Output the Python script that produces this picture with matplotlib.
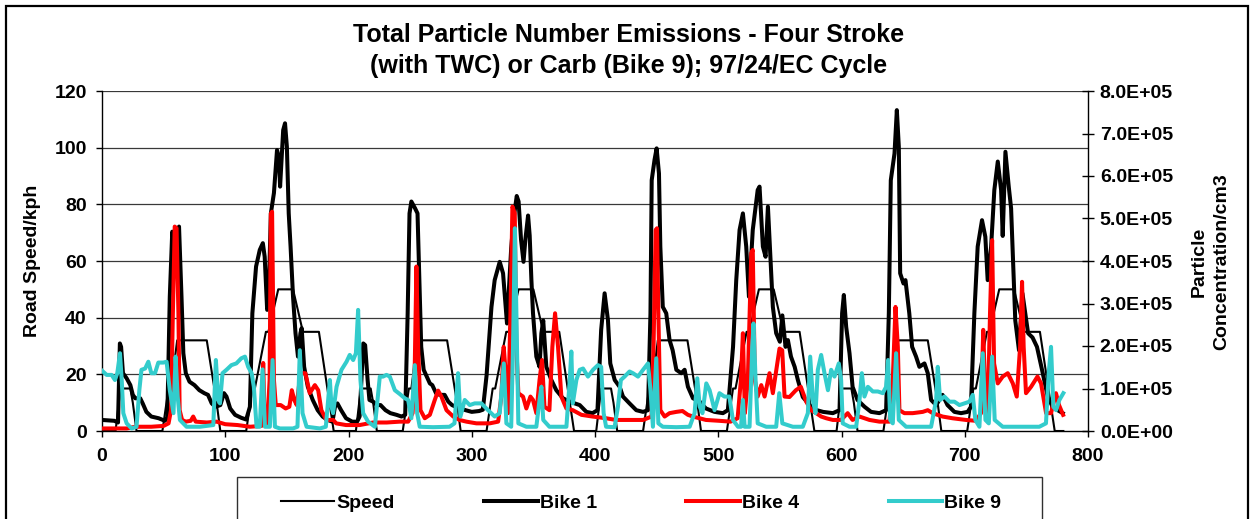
import numpy as np
import matplotlib.pyplot as plt
from matplotlib.ticker import FuncFormatter, MultipleLocator
from matplotlib.lines import Line2D

plt.rcParams['font.family'] = ['Liberation Sans', 'DejaVu Sans']
plt.rcParams['font.weight'] = 'bold'

# Road speed (kph), ECE cycle repeated four times
speed_t = [0, 11, 15, 23, 25, 28, 49, 54, 56, 61, 85, 93, 96, 117, 122, 124, 133, 135, 143, 155, 163, 176, 188,
           195, 206, 210, 218, 220, 223, 244, 249, 251, 256, 280, 288, 291, 312, 317, 319, 328, 330, 338, 350, 358, 371, 383,
           390, 401, 405, 413, 415, 418, 439, 444, 446, 451, 475, 483, 486, 507, 512, 514, 523, 525, 533, 545, 553, 566, 578,
           585, 596, 600, 608, 610, 613, 634, 639, 641, 646, 670, 678, 681, 702, 707, 709, 718, 720, 728, 740, 748, 761, 773,
           780]
speed_v = [0, 0, 15, 15, 10, 0, 0, 15, 15, 32, 32, 10, 0, 0, 15, 15, 35, 35, 50, 50, 35, 35, 0,
           0, 0, 15, 15, 10, 0, 0, 15, 15, 32, 32, 10, 0, 0, 15, 15, 35, 35, 50, 50, 35, 35, 0,
           0, 0, 15, 15, 10, 0, 0, 15, 15, 32, 32, 10, 0, 0, 15, 15, 35, 35, 50, 50, 35, 35, 0,
           0, 0, 15, 15, 10, 0, 0, 15, 15, 32, 32, 10, 0, 0, 15, 15, 35, 35, 50, 50, 35, 35, 0,
           0]

# Particle concentration, units of 1E+05 /cm3
bike1_t = [0, 10, 13, 14.5, 15.5, 17, 20, 23, 25, 27, 31, 33, 36, 40, 46, 51, 53, 55, 57, 59.5, 62.5, 64.5, 66, 68,
           71, 75, 79, 83, 86, 89, 92, 96, 99, 101, 104, 108, 113, 117, 120, 122, 125, 128, 130.5, 132, 134, 135,
           137, 139.5, 142, 143.5, 144.5, 145.5, 147, 148.5, 150, 151.5, 153, 155, 157, 159, 161, 162, 164, 167,
           171, 175, 179, 183, 187, 189, 191, 194, 198, 203, 207, 209, 212, 213.5, 215.5, 217, 220, 223, 226, 230,
           234, 239, 243, 246, 248, 249.5, 251, 254, 256, 257.5, 259, 261, 263.5, 266, 268, 271, 274, 278, 281,
           284, 287, 291, 295, 300, 306, 309, 312, 316, 318.6, 322.7, 325.4, 327.6, 328.6, 330.5, 332, 334, 336.5,
           338, 340, 342, 343.5, 345.7, 347, 348.4, 349.7, 352.4, 355, 356.5, 358, 360.5, 364.6, 368.6, 374,
           379.5, 387.6, 393, 398, 402, 405, 407.8, 410.5, 412.4, 416, 420, 422.7, 428, 433.5, 439, 443, 445,
           446, 448.3, 450, 451.9, 453, 455, 457.8, 460.5, 463, 466, 470, 472.7, 475.4, 479.5, 485, 490, 497,
           503.8, 507.8, 512, 514.6, 517.3, 520, 522.7, 524.9, 528, 532, 533.5, 536.2, 538.4, 540.3, 542.2,
           544.3, 547, 550, 552, 554.6, 556.5, 559, 562, 564.6, 568.6, 573, 577, 580, 585, 593, 598.4, 600.5,
           601.9, 603.8, 606.5, 609, 613, 618.7, 624, 630.8, 636.2, 638.4, 640, 643, 644.9, 646.5, 647.6, 650.3,
           651.9, 655, 657.3, 660.5, 663.2, 667.3, 670, 672.7, 676.8, 682, 686, 691.6, 697, 702.4, 705, 707.8,
           710.5, 714, 716.7, 718.6, 721.4, 724, 726.8, 729.5, 730.8, 733, 735.7, 737.6, 741, 744, 746.8, 751.4,
           755, 758.6, 762.7, 767.3, 771.4, 775.4, 779.5]
bike1_c = [0.26, 0.24, 0.20, 2.06, 1.98, 1.36, 1.24, 1.08, 0.85, 0.77, 0.77, 0.65, 0.45, 0.34, 0.30, 0.24, 0.32, 3.16,
           4.69, 4.20, 4.81, 3.16, 1.83, 1.36, 1.16, 1.08, 0.96, 0.89, 0.85, 0.65, 0.57, 0.61, 0.89, 0.81, 0.53, 0.38,
           0.31, 0.27, 0.57, 2.77, 3.87, 4.26, 4.42, 4.10, 2.85, 2.90, 5.12, 5.60, 6.61, 6.45, 5.75, 6.30, 7.08, 7.24,
           6.69, 5.12, 4.34, 3.16, 2.30, 1.75, 2.30, 2.42, 1.51, 1.04, 0.73, 0.49, 0.34, 0.26, 0.22, 0.57, 0.65, 0.49,
           0.30, 0.22, 0.22, 0.34, 2.06, 2.02, 1.20, 0.73, 0.69, 0.61, 0.61, 0.49, 0.42, 0.38, 0.34, 0.38, 2.77, 5.12,
           5.40, 5.24, 5.12, 3.55, 1.98, 1.44, 1.28, 1.12, 1.08, 0.89, 0.85, 0.85, 0.69, 0.61, 0.57, 0.53, 0.49, 0.45,
           0.47, 0.50, 1.30, 2.92, 3.55, 3.98, 3.71, 2.92, 2.53, 3.50, 4.30, 5.00, 5.53, 5.40, 4.50, 3.98, 4.50, 5.07,
           4.60, 3.55, 2.77, 1.75, 1.51, 2.30, 2.60, 1.51, 1.20, 0.96, 0.77, 0.69, 0.61, 0.45, 0.42, 0.49, 2.38, 3.24,
           2.61, 1.59, 1.20, 1.04, 0.81, 0.65, 0.49, 0.45, 0.49, 2.77, 5.90, 6.38, 6.65, 6.06, 4.34, 2.92, 2.77, 2.14,
           1.90, 1.44, 1.36, 1.44, 1.04, 0.77, 0.69, 0.53, 0.45, 0.42, 0.49, 1.98, 3.55, 4.73, 5.12, 4.34, 3.16, 4.73,
           5.67, 5.75, 4.34, 4.10, 5.28, 4.18, 2.92, 2.30, 2.10, 2.72, 1.98, 2.14, 1.75, 1.51, 1.20, 0.80, 0.65, 0.52,
           0.49, 0.45, 0.42, 0.49, 2.77, 3.20, 2.45, 1.83, 1.04, 0.73, 0.57, 0.45, 0.42, 0.49, 2.77, 5.90, 6.53, 7.55,
           6.69, 3.71, 3.47, 3.55, 2.77, 1.98, 1.75, 1.51, 1.59, 1.36, 0.73, 0.61, 0.85, 0.61, 0.45, 0.42, 0.45, 0.57,
           2.77, 4.34, 4.96, 4.57, 3.55, 4.34, 5.67, 6.34, 5.67, 4.59, 6.57, 5.75, 5.24, 2.60, 1.90, 3.24, 2.30, 2.20,
           1.98, 1.44, 0.81, 0.57, 0.49, 0.42]

bike4_t = [0, 20, 27, 40, 50, 54, 56, 57.5, 59, 60.5, 62, 63, 65, 68, 72, 74, 76, 85, 93, 100, 110, 120, 129.5,
           130.8, 132, 134, 136, 137, 138, 139.5, 141, 145, 149, 152, 154, 156, 158, 161, 165, 168.6, 172.7, 175.4,
           178, 182, 187.6, 190, 198, 209, 220, 231, 241.6, 248.4, 252, 253.8, 255.1, 256.5, 258.4, 261.9, 266,
           270, 272.7, 275.4, 279.5, 285, 290, 295.7, 303.8, 314.6, 321.4, 324, 325.9, 327.6, 329.5, 331.4, 333,
           334.9, 336.2, 337.8, 341.6, 344.3, 347.6, 349.7, 352.4, 355, 357, 359, 363, 365.4, 367.6, 370, 372.7,
           376.8, 382, 389, 398, 409, 417, 428, 439, 445.9, 447.5, 449.2, 450.3, 451.4, 453, 456.5, 460.5, 466,
           471, 475.4, 479.5, 490, 500.8, 510, 515.7, 518.4, 520, 521.6, 524, 526.8, 528, 529.7, 532, 534.9, 537.6,
           541.6, 544.3, 549.7, 551.9, 553.8, 557.8, 563, 567, 571.4, 575.4, 579.5, 583.5, 587.6, 593, 599.7, 605,
           609, 614.6, 622.7, 630.8, 638.9, 641.6, 643.8, 645.7, 647, 651, 657.8, 665.9, 670, 674, 682, 690, 701,
           709, 713.2, 715, 716.7, 718.6, 720.5, 722.2, 723.8, 726.8, 730.8, 734.9, 739, 742.2, 744.9, 746.5,
           747.8, 749.7, 753.8, 759, 761.9, 766, 770, 774, 776.5, 779.8]
bike4_c = [0.06, 0.06, 0.10, 0.10, 0.12, 0.18, 0.49, 2.77, 4.81, 4.77, 2.77, 0.49, 0.26, 0.22, 0.24, 0.34, 0.22, 0.20,
           0.22, 0.16, 0.14, 0.10, 0.12, 1.60, 0.14, 0.14, 1.20, 5.12, 5.16, 1.20, 0.61, 0.61, 0.53, 0.57, 0.96, 0.73,
           0.61, 1.36, 1.36, 0.89, 1.08, 0.96, 0.49, 0.26, 0.26, 0.18, 0.14, 0.14, 0.20, 0.20, 0.22, 0.22, 0.42, 1.60,
           3.87, 1.98, 0.49, 0.30, 0.38, 0.73, 0.95, 0.81, 0.49, 0.34, 0.26, 0.22, 0.18, 0.18, 0.22, 0.81, 1.98, 1.36,
           0.42, 2.77, 5.28, 5.12, 1.98, 0.89, 0.81, 0.53, 0.81, 0.73, 0.42, 1.20, 1.67, 0.57, 0.49, 1.98, 2.77, 1.98,
           0.81, 0.53, 0.49, 0.38, 0.34, 0.30, 0.26, 0.26, 0.26, 0.34, 1.98, 4.73, 4.77, 2.77, 0.49, 0.34, 0.42, 0.45,
           0.47, 0.38, 0.34, 0.26, 0.24, 0.22, 0.30, 1.20, 2.30, 0.42, 1.20, 4.18, 4.26, 1.20, 0.81, 1.08, 0.81, 1.36,
           0.89, 1.94, 1.90, 0.81, 0.80, 0.96, 1.04, 0.69, 0.49, 0.42, 0.34, 0.30, 0.26, 0.26, 0.42, 0.26, 0.34, 0.26,
           0.22, 0.22, 1.20, 2.92, 1.98, 0.49, 0.42, 0.42, 0.45, 0.49, 0.42, 0.34, 0.30, 0.26, 0.24, 0.42, 2.38, 0.81,
           0.34, 2.77, 4.49, 1.59, 1.12, 1.28, 1.36, 1.12, 0.81, 1.98, 3.51, 1.98, 0.89, 1.04, 1.28, 1.12, 0.42, 0.42,
           0.89, 0.61, 0.38]

bike9_t = [0, 3.8, 7.8, 10.5, 12.4, 14.6, 16, 17.3, 20, 24, 28, 30.3, 32, 35, 37.6, 40, 43, 45.7, 49.7, 52.4, 55, 58,
           59.7, 61.4, 63.2, 68.6, 79.5, 90.3, 92.4, 94.3, 95.7, 97.8, 101, 105, 109, 113, 116, 118.6, 121.4, 123.2,
           125.4, 128, 130.3, 132.2, 136.2, 138.4, 140.3, 144.3, 155, 158.6, 160.5, 162.7, 166, 176.8, 181.6, 184.9,
           186.2, 187.5, 190.3, 194.3, 198.4, 201, 203.8, 206, 207.8, 209.7, 211.9, 215.9, 221.4, 225.4, 228, 230.8,
           233.5, 237.6, 241.6, 245.7, 248.4, 251, 253.8, 255.7, 257.8, 268.6, 282, 286, 288.9, 290.8, 294.3, 298.4,
           302.4, 307.8, 313.2, 318.6, 322.7, 326, 328.1, 332, 333.5, 335, 336.2, 337.8, 344.3, 352.4, 355, 356.5,
           358, 363, 376.8, 379.5, 380.8, 382, 384.9, 387.6, 390.3, 394.3, 398.4, 402.4, 405, 407, 409, 415.9, 418.6,
           421, 424, 428, 430.8, 434.9, 439, 443, 445, 447, 449.7, 451.4, 455, 466, 476.8, 480.8, 483, 485, 487.2,
           490.3, 493, 497, 501, 505, 509, 511.9, 516, 518.5, 520, 521.4, 525.4, 527.6, 528.6, 530.3, 532, 538.9,
           547, 549.5, 552, 560.5, 568.6, 572.7, 574.6, 576.8, 578.9, 580.8, 583.5, 586.2, 589, 591.6, 594.3, 597.8,
           599.7, 601, 606.5, 611.9, 614.6, 616.5, 618.6, 621.4, 625.4, 629.5, 633.5, 636.2, 637.8, 639.5, 641.6,
           644.3, 646.5, 652.4, 663, 672.7, 676.8, 678.1, 680, 683.5, 687.6, 691.6, 695.7, 699.7, 703.8, 706.5,
           708.6, 711.9, 714.6, 716.8, 719.5, 722.2, 724.3, 730.8, 744, 760.5, 765.9, 768.1, 770, 771.9, 774.1,
           776.8, 780]
bike9_c = [1.42, 1.32, 1.32, 1.20, 1.36, 1.83, 1.20, 0.42, 0.18, 0.06, 0.10, 0.96, 1.44, 1.47, 1.63, 1.36, 1.36, 1.61,
           1.61, 1.63, 0.96, 0.42, 1.75, 0.81, 0.26, 0.10, 0.10, 0.14, 1.67, 0.73, 0.65, 1.36, 1.44, 1.55, 1.59, 1.71,
           1.75, 1.51, 1.36, 1.04, 0.10, 0.10, 1.45, 0.10, 0.10, 1.67, 0.10, 0.06, 0.06, 0.10, 1.90, 0.42, 0.10, 0.06,
           0.10, 1.20, 0.57, 0.42, 1.04, 1.44, 1.63, 1.79, 1.67, 1.83, 2.85, 1.20, 0.42, 0.22, 0.10, 1.28, 1.28, 1.32,
           1.28, 0.96, 0.87, 0.77, 0.73, 0.30, 1.55, 0.42, 0.10, 0.09, 0.10, 0.18, 1.36, 0.34, 0.73, 0.61, 0.65, 0.65,
           0.49, 0.34, 0.42, 1.59, 0.18, 0.10, 1.98, 4.77, 2.77, 0.18, 0.10, 0.10, 0.73, 1.04, 0.26, 0.10, 0.10, 1.20,
           1.87, 0.65, 1.20, 1.44, 1.47, 1.28, 1.44, 1.55, 1.51, 0.42, 0.10, 0.09, 0.57, 1.20, 1.28, 1.40, 1.36, 1.28,
           1.44, 1.59, 0.96, 0.10, 1.71, 0.18, 0.10, 0.09, 0.10, 0.42, 1.24, 0.57, 0.42, 1.12, 0.96, 0.49, 0.89, 0.81,
           0.81, 0.26, 0.10, 0.10, 0.73, 0.10, 0.10, 1.98, 2.53, 1.20, 0.18, 0.10, 0.10, 0.89, 0.18, 0.10, 0.10, 0.42,
           1.75, 0.73, 0.42, 1.44, 1.79, 1.36, 0.96, 1.44, 1.28, 1.59, 1.20, 0.18, 0.10, 0.10, 0.73, 1.36, 0.81, 1.04,
           0.93, 0.93, 0.89, 1.04, 1.67, 0.26, 0.18, 1.83, 0.26, 0.10, 0.10, 0.10, 0.73, 1.51, 0.73, 0.81, 0.69, 0.69,
           0.61, 0.65, 0.69, 0.85, 0.26, 0.10, 1.83, 0.26, 0.18, 1.75, 0.26, 0.10, 0.10, 0.10, 0.18, 1.36, 1.98, 0.57,
           0.49, 0.73, 0.89]

x_ticks = [0, 100, 200, 300, 400, 500, 600, 700, 800]

W, H = 1252, 519
FS = 14
fig = plt.figure(figsize=(W / 100, H / 100), dpi=100)
ax = fig.add_axes([102 / W, 1 - 431 / H, (1088 - 102) / W, (431 - 91) / H])
ax2 = ax.twinx()

ax.plot(speed_t, speed_v, color='black', lw=1.5, label='Speed', zorder=3)
ax2.plot(bike1_t, np.array(bike1_c) * 1e5, color='black', lw=2.9, label='Bike 1', solid_joinstyle='round')
ax2.plot(bike4_t, np.array(bike4_c) * 1e5, color='#ff0000', lw=2.9, label='Bike 4', solid_joinstyle='round')
ax2.plot(bike9_t, np.array(bike9_c) * 1e5, color='#33cccc', lw=2.9, label='Bike 9', solid_joinstyle='round')

ax.set_xlim(0, 800)
ax.set_ylim(0, 120)
ax2.set_ylim(0, 8e5)
ax.set_xticks(x_ticks)
ax.yaxis.set_major_locator(MultipleLocator(20))
ax2.yaxis.set_major_locator(MultipleLocator(1e5))
ax2.yaxis.set_major_formatter(FuncFormatter(lambda v, p: f"{v:.1E}"))

for g in range(20, 121, 20):
    ax.axhline(g, color='#383838', lw=0.9, zorder=1)

for a in (ax, ax2):
    a.spines['top'].set_visible(False)
    a.set_facecolor('none')
ax.spines['right'].set_visible(False)
ax2.spines['left'].set_visible(False)
ax2.spines['bottom'].set_visible(False)
ax.spines['left'].set_linewidth(1.0)
ax.spines['bottom'].set_linewidth(1.0)
ax2.spines['right'].set_linewidth(1.0)

ax.tick_params(axis='x', direction='out', length=4, width=1, labelsize=FS, pad=8)
ax.tick_params(axis='y', direction='out', length=4, width=1, labelsize=FS, pad=7)
ax2.tick_params(axis='y', direction='inout', length=9, width=1, labelsize=FS, pad=4)
for lab in ax.get_xticklabels() + ax.get_yticklabels() + ax2.get_yticklabels():
    lab.set_fontweight('bold')

fig.text(0.502, 1 - 42.5 / H, 'Total Particle Number Emissions - Four Stroke', ha='center', va='baseline',
         fontsize=18, fontweight='bold')
fig.text(0.502, 1 - 73 / H, '(with TWC) or Carb (Bike 9); 97/24/EC Cycle', ha='center', va='baseline',
         fontsize=18, fontweight='bold')
fig.text(33 / W, 1 - 261 / H, 'Road Speed/kph', rotation=90, ha='center', va='center',
         fontsize=FS, fontweight='bold')
fig.text(1210.5 / W, 1 - 262 / H, 'Particle\nConcentration/cm3', rotation=90, ha='center', va='center',
         fontsize=FS, fontweight='bold', multialignment='center', linespacing=1.35)

# legend: frame drawn separately so the entries can sit inside a wider box
fig.add_artist(plt.Rectangle((237 / W, -0.05), (1042 - 237) / W, 0.05 + 1 - 477 / H,
                             transform=fig.transFigure, fill=False, edgecolor='#303030', lw=1.0))
handles = [Line2D([], [], color='black', lw=1.5), Line2D([], [], color='black', lw=2.9),
           Line2D([], [], color='#ff0000', lw=2.9), Line2D([], [], color='#33cccc', lw=2.9)]
leg = fig.legend(handles, ['Speed', 'Bike 1', 'Bike 4', 'Bike 9'], loc='upper left', ncol=4,
                 bbox_to_anchor=(281 / W, 0, (1001 - 281) / W, 1 - 494 / H), mode='expand',
                 frameon=False, fontsize=FS, handlelength=2.75, handletextpad=0.1,
                 borderpad=0, borderaxespad=0)
for t in leg.get_texts():
    t.set_fontweight('bold')

# outer chart border
fig.add_artist(plt.Rectangle((6 / W, -0.05), (1248 - 6) / W, 1.05 - 6 / H, transform=fig.transFigure,
                             fill=False, edgecolor='black', lw=1.6))

fig.savefig('out.png', dpi=100)
